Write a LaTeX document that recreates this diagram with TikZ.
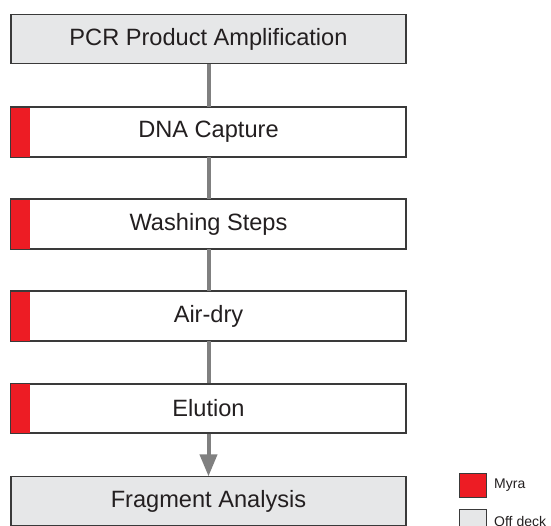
\documentclass[tikz,border=0pt]{standalone}
\usepackage{fontspec}
\setmainfont{Liberation Sans}
\usetikzlibrary{arrows.meta}
\definecolor{boxgray}{HTML}{E6E7E8}
\definecolor{myred}{HTML}{ED1C24}
\definecolor{linegray}{HTML}{808080}
\definecolor{edgegray}{HTML}{3A3A3A}
\definecolor{txt}{HTML}{231F20}
\tikzset{
  stepbox/.style={draw=edgegray, line width=1.3pt, minimum width=395pt, minimum height=49pt, inner sep=0pt, font=\fontsize{23.6}{28}\selectfont, text=txt},
  offbox/.style={stepbox, fill=boxgray},
  onbox/.style={stepbox, fill=white},
  conn/.style={draw=linegray, line width=4pt},
  legbox/.style={draw=edgegray, line width=1pt, minimum width=27pt, minimum height=24pt, inner sep=0pt},
  legtext/.style={font=\fontsize{14}{16}\selectfont, anchor=west, inner sep=0pt, text=txt}
}
\begin{document}
\begin{tikzpicture}[x=1pt,y=-1pt]
\useasboundingbox (0,0) rectangle (551,525);
\clip (0,0) rectangle (551,525);
\node[offbox] (pcr) at (208.5,39) {PCR Product Amplification};
\node[onbox] (dna) at (208.5,132) {DNA Capture};
\node[onbox] (wash) at (208.5,224) {Washing Steps};
\node[onbox] (air) at (208.5,316) {Air-dry};
\node[onbox] (elu) at (208.5,408.5) {Elution};
\node[offbox] (frag) at (208.5,501) {Fragment Analysis};
\foreach \n in {dna,wash,air,elu}{
  \fill[myred] ([xshift=0.65pt,yshift=-0.65pt]\n.north west) rectangle ([xshift=20pt,yshift=0.65pt]\n.south west);
  \draw[edgegray, line width=1.3pt] (\n.north west) rectangle (\n.south east);
}
\draw[conn] (pcr.south) -- (dna.north);
\draw[conn] (dna.south) -- (wash.north);
\draw[conn] (wash.south) -- (air.north);
\draw[conn] (air.south) -- (elu.north);
\draw[conn, -{Triangle[length=22pt,width=17pt]}, shorten >=-0.5pt] (elu.south) -- (frag.north);
\node[legbox, fill=myred] (lmyra) at (472.5,485) {};
\node[legtext] (tmyra) at (494,485) {Myra};
\node[legbox, fill=boxgray] (loff) at (472.5,521) {};
\node[legtext] (toff) at (494,521) {Off deck};
\end{tikzpicture}
\end{document}
